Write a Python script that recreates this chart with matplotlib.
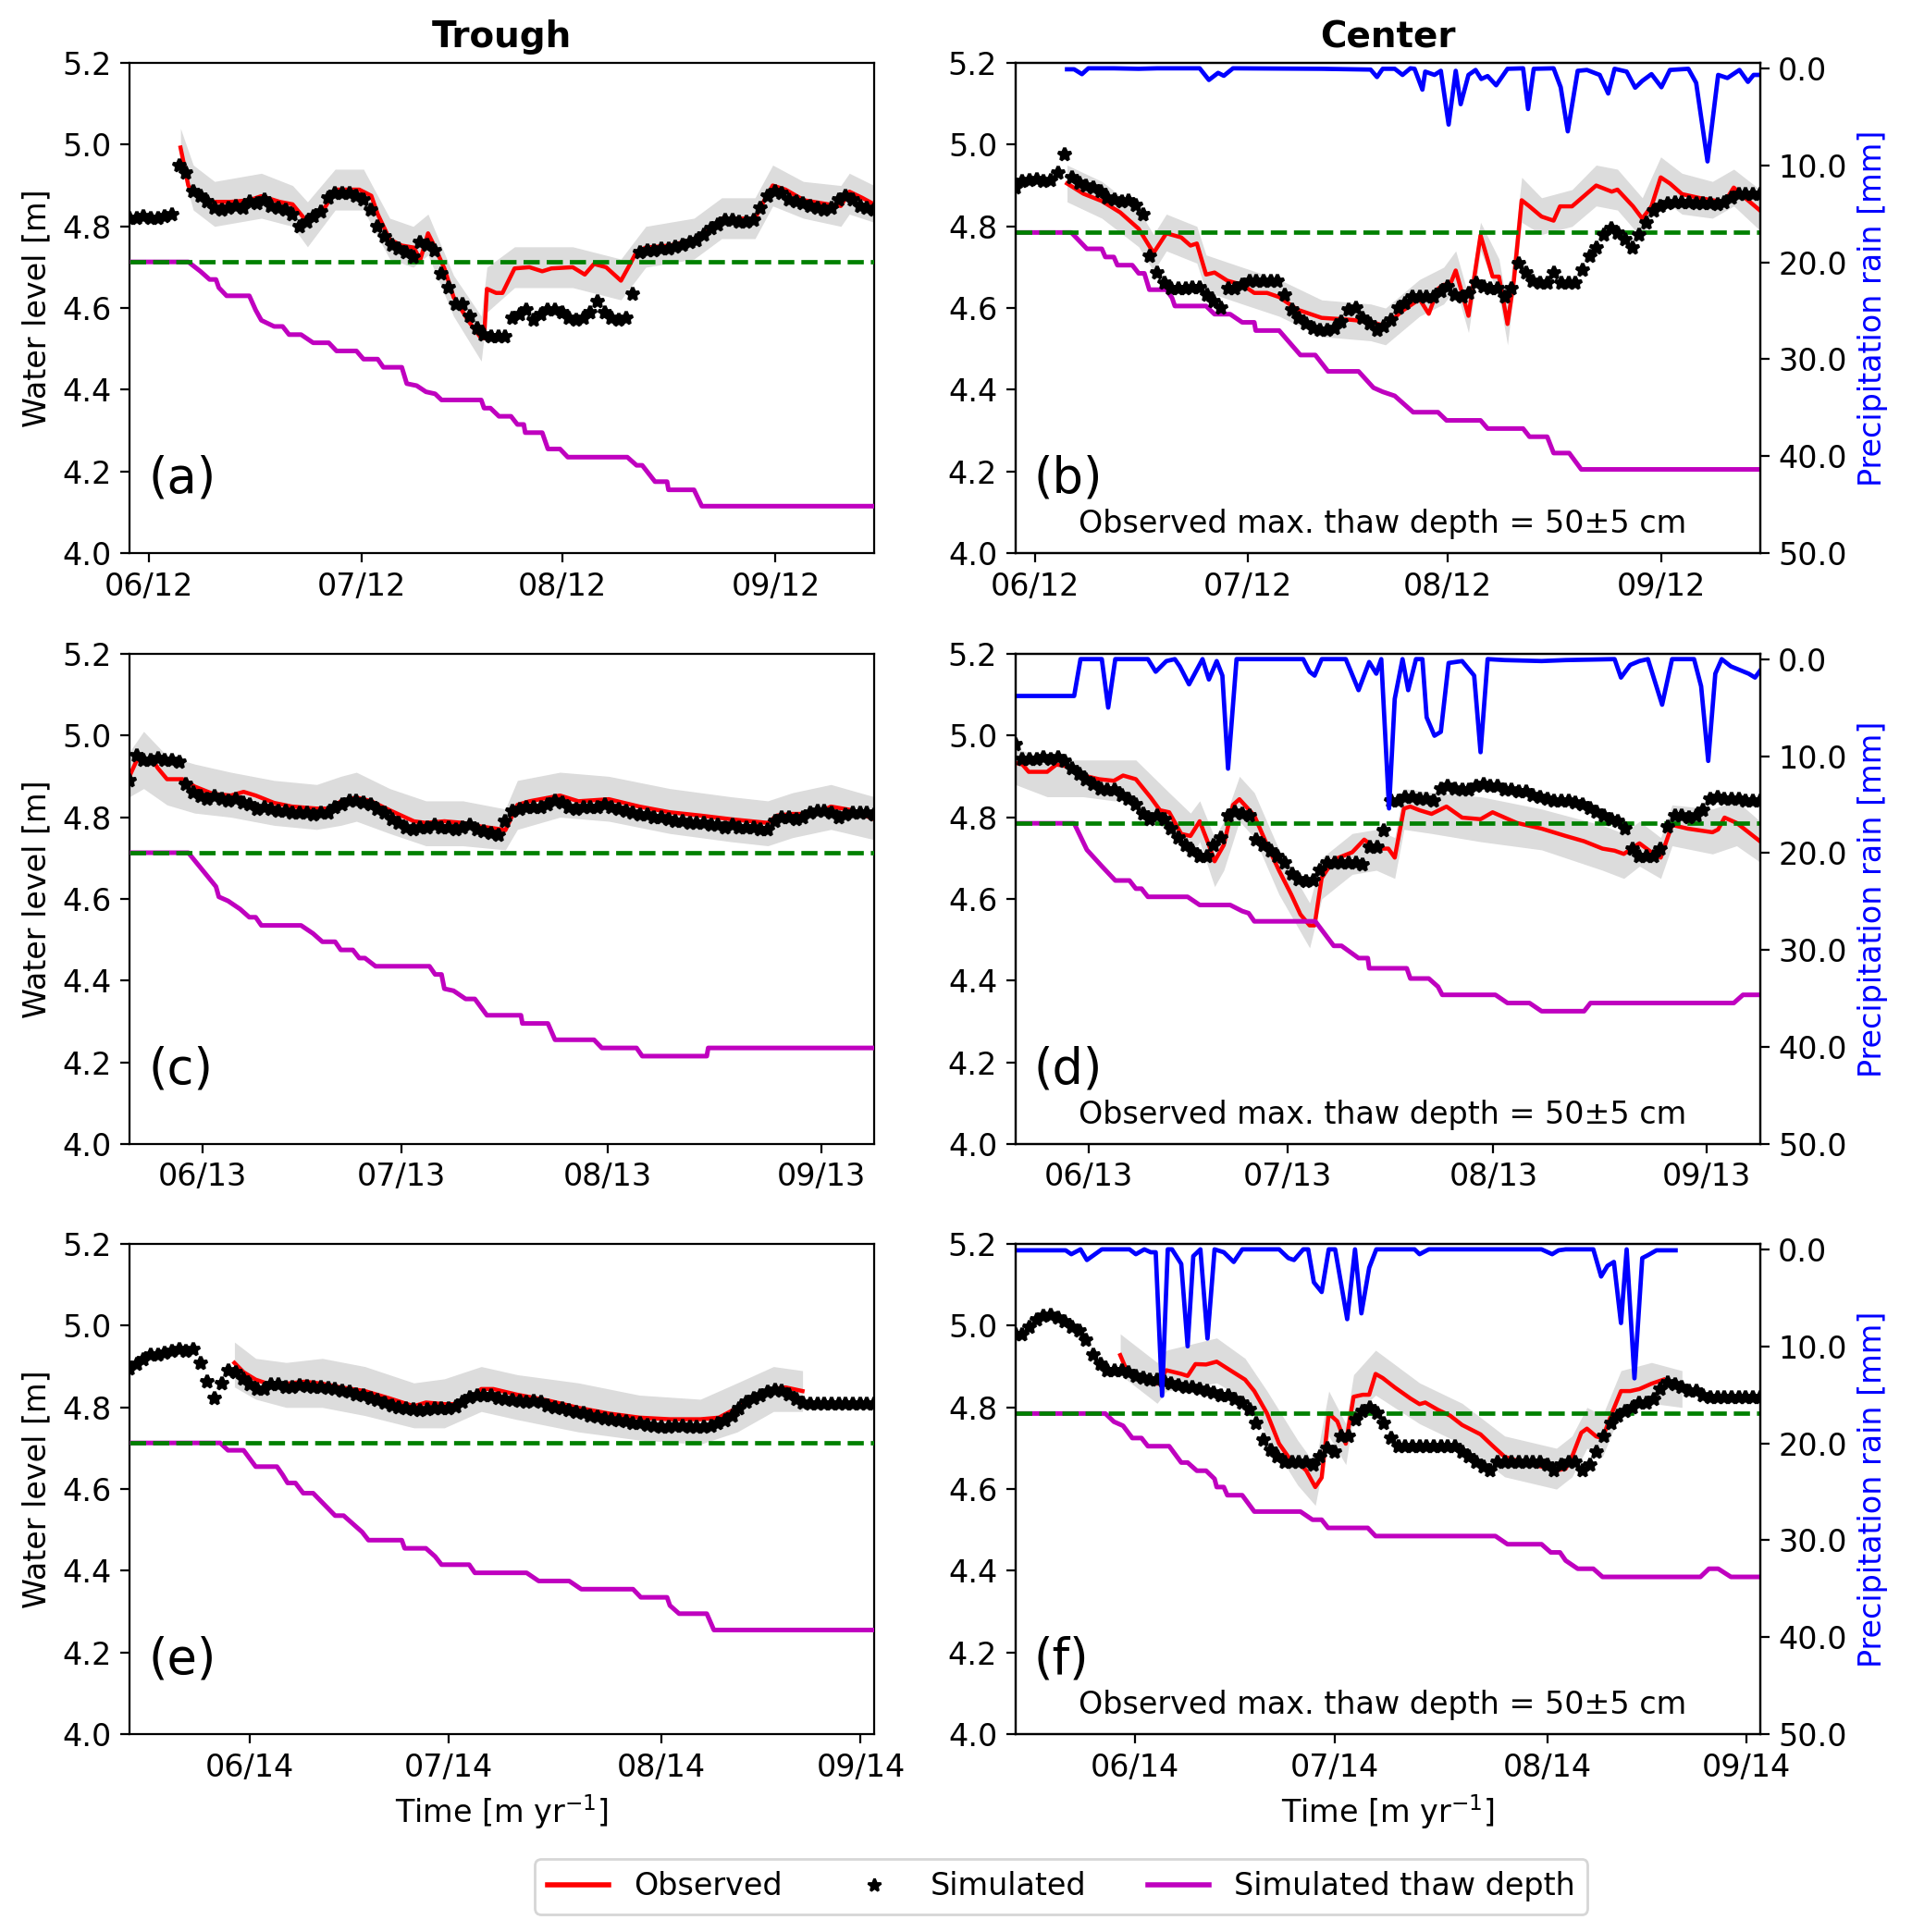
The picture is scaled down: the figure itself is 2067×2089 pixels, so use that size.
import matplotlib
matplotlib.use("Agg")
import matplotlib.pyplot as plt
import numpy as np
from matplotlib.lines import Line2D

# ---- tick positions (days from panel start) and labels ----
ticks_2012 = [2.75, 32.8, 61.0, 91.1]
labels_2012 = ["06/12", "07/12", "08/12", "09/12"]
ticks_2013 = [10.3, 38.4, 67.4, 97.5]
labels_2013 = ["06/13", "07/13", "08/13", "09/13"]
ticks_2014 = [16.9, 45.0, 75.0, 103.1]
labels_2014 = ["06/14", "07/14", "08/14", "09/14"]

# ---- (a) trough 2012 ----
a_sim = [4.82, 4.82, 4.825, 4.82, 4.82, 4.825, 4.83, 4.95, 4.93, 4.885,
         4.875, 4.86, 4.845, 4.84, 4.845, 4.85, 4.845, 4.86, 4.855, 4.865,
         4.85, 4.845, 4.84, 4.83, 4.80, 4.81, 4.825, 4.835, 4.87, 4.88,
         4.88, 4.88, 4.875, 4.865, 4.84, 4.80, 4.775, 4.755, 4.745, 4.735,
         4.725, 4.76, 4.755, 4.74, 4.685, 4.65, 4.61, 4.61, 4.58, 4.55,
         4.535, 4.53, 4.53, 4.53, 4.575, 4.585, 4.595, 4.57, 4.585, 4.595,
         4.595, 4.59, 4.575, 4.57, 4.575, 4.59, 4.615, 4.59, 4.575, 4.57,
         4.575, 4.635, 4.735, 4.74, 4.74, 4.745, 4.745, 4.75, 4.755, 4.76,
         4.765, 4.78, 4.795, 4.805, 4.815, 4.815, 4.81, 4.81, 4.815, 4.845,
         4.875, 4.885, 4.88, 4.865, 4.86, 4.855, 4.85, 4.845, 4.84, 4.845,
         4.865, 4.875, 4.865, 4.85, 4.845, 4.84]
a_obs = [(7.2, 4.993), (8.3, 4.90), (9.2, 4.88), (11.8, 4.86), (14.3, 4.86), (16.9, 4.864),
         (18.6, 4.874), (21.2, 4.86), (23.0, 4.854), (25.1, 4.81), (26.4, 4.824), (27.7, 4.85),
         (29.0, 4.89), (32.4, 4.89), (34.1, 4.875), (35.0, 4.83), (36.7, 4.768), (38.4, 4.753),
         (40.1, 4.748), (41.0, 4.718), (42.1, 4.783), (43.1, 4.748), (44.4, 4.697), (45.7, 4.627),
         (47.9, 4.566), (49.6, 4.526), (50.0, 4.526), (50.4, 4.647), (51.7, 4.637), (52.6, 4.637),
         (54.3, 4.697), (56.4, 4.70), (58.2, 4.69), (59.5, 4.697), (62.5, 4.70), (64.2, 4.682),
         (65.5, 4.708), (67.2, 4.70), (69.3, 4.667), (70.6, 4.708), (71.5, 4.738), (72.8, 4.748),
         (76.2, 4.753), (79.6, 4.768), (81.8, 4.794), (83.5, 4.819), (88.2, 4.819), (89.4, 4.86),
         (90.7, 4.90), (92.5, 4.89), (95.1, 4.864), (98.5, 4.854), (100.3, 4.85), (101.5, 4.885),
         (103.3, 4.87), (105.0, 4.854)]
a_band = [(7.2, 4.95, 5.04), (9.0, 4.84, 4.95), (12.0, 4.80, 4.91), (18.6, 4.82, 4.93),
          (23.0, 4.80, 4.90), (25.1, 4.75, 4.86), (29.0, 4.84, 4.94), (33.0, 4.84, 4.94),
          (36.7, 4.72, 4.82), (40.0, 4.70, 4.80), (42.1, 4.73, 4.83), (45.7, 4.58, 4.68),
          (49.6, 4.47, 4.58), (50.4, 4.59, 4.70), (54.3, 4.65, 4.75), (62.5, 4.65, 4.75),
          (69.3, 4.62, 4.72), (72.8, 4.70, 4.80), (79.6, 4.72, 4.82), (83.5, 4.77, 4.87),
          (88.2, 4.77, 4.87), (90.7, 4.85, 4.95), (95.0, 4.82, 4.91), (100.3, 4.80, 4.90),
          (101.5, 4.83, 4.93), (105.0, 4.81, 4.90)]
a_thaw = [(0, 4.713), (8.3, 4.713), (10.0, 4.69), (11.3, 4.67), (12.2, 4.67), (12.6, 4.65),
          (13.7, 4.63), (16.9, 4.63), (17.8, 4.595), (18.6, 4.57), (20.4, 4.555), (21.6, 4.555),
          (22.5, 4.535), (24.2, 4.535), (25.9, 4.515), (28.1, 4.515), (29.2, 4.495), (32.0, 4.495),
          (33.0, 4.475), (35.0, 4.475), (35.8, 4.455), (38.4, 4.455), (39.1, 4.415), (40.5, 4.41),
          (41.8, 4.395), (43.1, 4.39), (44.0, 4.375), (49.6, 4.375), (50.0, 4.355), (50.9, 4.355),
          (52.1, 4.335), (53.8, 4.335), (54.7, 4.315), (55.6, 4.315), (55.8, 4.295), (58.2, 4.295),
          (59.0, 4.255), (60.7, 4.255), (61.8, 4.235), (70.2, 4.235), (71.5, 4.215), (72.3, 4.215),
          (74.1, 4.175), (75.8, 4.175), (76.0, 4.155), (79.6, 4.155), (80.7, 4.115), (105, 4.115)]
a_base = 4.713

# ---- (b) center 2012 ----
b_sim = [4.895, 4.91, 4.913, 4.915, 4.91, 4.913, 4.93, 4.975, 4.92, 4.905,
         4.90, 4.895, 4.885, 4.87, 4.865, 4.86, 4.862, 4.852, 4.83, 4.728,
         4.687, 4.662, 4.647, 4.647, 4.647, 4.649, 4.649, 4.632, 4.617, 4.60,
         4.647, 4.647, 4.657, 4.667, 4.667, 4.667, 4.667, 4.667, 4.632, 4.596,
         4.576, 4.561, 4.551, 4.546, 4.546, 4.551, 4.566, 4.596, 4.60, 4.576,
         4.561, 4.546, 4.556, 4.571, 4.60, 4.612, 4.627, 4.627, 4.627, 4.627,
         4.642, 4.652, 4.632, 4.627, 4.637, 4.662, 4.652, 4.647, 4.647, 4.627,
         4.647, 4.708, 4.687, 4.667, 4.662, 4.662, 4.687, 4.662, 4.662, 4.662,
         4.692, 4.728, 4.748, 4.778, 4.794, 4.783, 4.768, 4.748, 4.778, 4.809,
         4.839, 4.849, 4.856, 4.859, 4.859, 4.859, 4.857, 4.857, 4.857, 4.854,
         4.859, 4.869, 4.879, 4.879, 4.879, 4.879]
b_obs = [(7.3, 4.905), (9.6, 4.88), (12.2, 4.862), (14.8, 4.834), (17.4, 4.794), (19.5, 4.735),
         (21.3, 4.783), (23.4, 4.773), (24.7, 4.753), (25.6, 4.758), (26.9, 4.682), (28.1, 4.687),
         (29.9, 4.667), (32.0, 4.657), (33.7, 4.637), (35.5, 4.637), (37.2, 4.627), (39.8, 4.596),
         (43.2, 4.576), (47.5, 4.571), (50.1, 4.566), (52.2, 4.556), (54.4, 4.591), (57.0, 4.622),
         (58.3, 4.586), (59.6, 4.647), (60.4, 4.657), (61.3, 4.657), (62.1, 4.692), (63.9, 4.581),
         (65.6, 4.778), (67.3, 4.677), (68.2, 4.677), (69.4, 4.561), (70.3, 4.667), (71.4, 4.864),
         (72.5, 4.849), (74.2, 4.824), (75.9, 4.814), (76.8, 4.849), (78.5, 4.849), (81.9, 4.90),
         (84.1, 4.885), (84.9, 4.89), (87.1, 4.849), (88.4, 4.819), (89.7, 4.849), (91.0, 4.92),
         (92.3, 4.905), (94.0, 4.879), (96.6, 4.869), (98.3, 4.864), (100.0, 4.859), (101.3, 4.895),
         (102.6, 4.874), (105.0, 4.839)]
b_band = [(7.3, 4.86, 4.95), (12.2, 4.82, 4.91), (17.4, 4.75, 4.84), (19.5, 4.69, 4.78),
          (21.3, 4.74, 4.83), (25.6, 4.71, 4.80), (26.9, 4.64, 4.73), (32.0, 4.61, 4.70),
          (37.2, 4.58, 4.67), (43.2, 4.53, 4.62), (50.1, 4.52, 4.61), (52.2, 4.51, 4.60),
          (57.0, 4.58, 4.67), (60.4, 4.61, 4.70), (62.1, 4.65, 4.74), (63.9, 4.54, 4.63),
          (65.6, 4.74, 4.81), (68.2, 4.63, 4.72), (69.4, 4.51, 4.60), (71.4, 4.81, 4.92),
          (74.2, 4.78, 4.87), (78.5, 4.80, 4.89), (81.9, 4.85, 4.95), (84.9, 4.84, 4.94),
          (88.4, 4.77, 4.87), (91.0, 4.87, 4.97), (94.0, 4.83, 4.93), (98.3, 4.82, 4.91),
          (101.3, 4.85, 4.94), (105.0, 4.79, 4.89)]
b_thaw = [(0, 4.785), (7.9, 4.785), (10.1, 4.745), (12.2, 4.745), (12.7, 4.725), (13.9, 4.725),
          (14.4, 4.705), (16.5, 4.705), (17.4, 4.685), (18.2, 4.685), (18.9, 4.645), (21.3, 4.645),
          (22.1, 4.625), (22.5, 4.605), (26.9, 4.605), (28.1, 4.585), (30.3, 4.585), (32.0, 4.565),
          (33.7, 4.565), (33.9, 4.545), (37.2, 4.545), (40.2, 4.485), (42.3, 4.485), (43.2, 4.465),
          (44.1, 4.445), (48.4, 4.445), (50.5, 4.405), (51.8, 4.395), (53.5, 4.385), (56.1, 4.345),
          (59.6, 4.345), (60.8, 4.325), (65.6, 4.325), (66.6, 4.305), (71.6, 4.305), (72.5, 4.285),
          (75.0, 4.285), (75.9, 4.245), (78.1, 4.245), (79.8, 4.205), (105, 4.205)]
b_base = 4.785
b_rain = [(7.3, 0.1), (8.3, 0.1), (9.4, 0.6), (10.3, 0), (13.9, 0), (17.4, 0.05), (20.0, 0), (26.0, 0),
          (27.3, 1.2), (28.6, 0.47), (29.4, 0.77), (30.7, 0), (43.2, 0.05), (50.1, 0.13), (51.0, 0.9),
          (51.8, 0.05), (53.5, 0.05), (54.6, 0.68), (55.7, 0), (56.3, 0.05), (57.4, 2.2), (57.8, 0.34),
          (59.1, 0.68), (60.0, 0.26), (61.1, 5.8), (62.1, 0.26), (62.8, 3.7), (63.9, 0.68), (64.9, 0.17),
          (65.7, 1.1), (66.6, 0.8), (67.8, 1.75), (69.4, 0.05), (71.6, 0), (72.3, 4.2), (73.1, 0.05),
          (75.9, 0), (76.9, 1.95), (77.9, 6.5), (79.3, 0.26), (80.6, 0.17), (82.4, 0.68), (83.6, 2.6),
          (84.5, 0.05), (86.2, 0.34), (87.4, 2.0), (88.4, 1.3), (89.7, 0.6), (91.1, 1.95), (92.3, 0.17),
          (94.9, 0.05), (96.0, 1.5), (97.6, 9.6), (99.1, 0.68), (100.4, 1.0), (102.1, 0.17),
          (103.3, 1.4), (104.1, 0.68), (105.0, 0.68)]

# ---- (c) trough 2013 ----
c_sim = [4.89, 4.95, 4.94, 4.94, 4.945, 4.94, 4.94, 4.935, 4.88, 4.86,
         4.85, 4.845, 4.85, 4.845, 4.84, 4.845, 4.835, 4.83, 4.82, 4.825,
         4.82, 4.815, 4.815, 4.81, 4.81, 4.81, 4.805, 4.81, 4.81, 4.825,
         4.83, 4.84, 4.84, 4.835, 4.83, 4.82, 4.81, 4.795, 4.785, 4.775,
         4.77, 4.775, 4.775, 4.78, 4.775, 4.775, 4.77, 4.775, 4.78, 4.77,
         4.765, 4.76, 4.755, 4.79, 4.815, 4.82, 4.825, 4.825, 4.825, 4.83,
         4.84, 4.835, 4.825, 4.82, 4.825, 4.825, 4.825, 4.83, 4.825, 4.82,
         4.815, 4.81, 4.805, 4.805, 4.80, 4.80, 4.795, 4.79, 4.79, 4.785,
         4.785, 4.785, 4.78, 4.78, 4.775, 4.78, 4.775, 4.775, 4.775, 4.77,
         4.77, 4.79, 4.80, 4.80, 4.795, 4.80, 4.81, 4.815, 4.815, 4.81,
         4.80, 4.805, 4.81, 4.81, 4.81, 4.805]
c_obs = [(0, 4.90), (1.0, 4.938), (3.2, 4.942), (4.0, 4.92), (5.3, 4.893), (7.5, 4.893), (9.2, 4.875),
         (11.8, 4.857), (14.3, 4.853), (16.1, 4.862), (17.8, 4.853), (20.4, 4.835), (22.9, 4.826),
         (26.4, 4.821), (28.5, 4.821), (29.8, 4.839), (32.0, 4.848), (34.1, 4.839), (36.7, 4.817),
         (40.1, 4.79), (41.8, 4.786), (44.4, 4.79), (47.0, 4.786), (49.6, 4.777), (51.7, 4.772),
         (53.0, 4.768), (54.7, 4.83), (56.4, 4.839), (60.7, 4.853), (63.3, 4.839), (67.6, 4.844),
         (71.9, 4.826), (76.2, 4.812), (80.5, 4.804), (84.8, 4.795), (90.0, 4.786), (91.3, 4.804),
         (93.5, 4.808), (96.8, 4.808), (98.9, 4.826), (101.9, 4.817), (105, 4.795)]
c_band = [(0, 4.85, 4.96), (2.0, 4.87, 5.01), (5.3, 4.83, 4.95), (9.2, 4.81, 4.93), (14.3, 4.80, 4.91),
          (20.4, 4.78, 4.89), (26.4, 4.77, 4.88), (29.8, 4.78, 4.90), (32.0, 4.79, 4.91),
          (36.7, 4.76, 4.87), (41.8, 4.73, 4.84), (47.0, 4.73, 4.84), (53.0, 4.72, 4.82),
          (54.7, 4.77, 4.89), (60.7, 4.80, 4.91), (67.6, 4.79, 4.90), (76.2, 4.76, 4.87),
          (84.8, 4.74, 4.85), (90.0, 4.73, 4.84), (93.5, 4.75, 4.86), (98.9, 4.77, 4.88),
          (105, 4.745, 4.85)]
c_thaw = [(0, 4.713), (8.3, 4.713), (12.2, 4.63), (12.6, 4.605), (13.9, 4.595), (15.6, 4.575),
          (16.9, 4.555), (17.8, 4.555), (18.6, 4.535), (24.2, 4.535), (25.9, 4.515), (27.2, 4.495),
          (29.0, 4.495), (29.8, 4.475), (31.5, 4.475), (32.4, 4.455), (33.2, 4.455), (34.7, 4.435),
          (42.3, 4.435), (43.1, 4.415), (44.0, 4.415), (44.4, 4.38), (45.7, 4.375), (47.4, 4.355),
          (48.7, 4.355), (50.4, 4.315), (55.2, 4.315), (55.4, 4.295), (59.0, 4.295), (60.0, 4.255),
          (65.5, 4.255), (66.6, 4.235), (71.5, 4.235), (72.3, 4.215), (81.4, 4.215), (81.6, 4.235),
          (105, 4.235)]
c_base = 4.713

# ---- (d) center 2013 ----
d_sim = [4.978, 4.942, 4.942, 4.942, 4.947, 4.942, 4.947, 4.938, 4.92, 4.906,
         4.893, 4.88, 4.87, 4.866, 4.866, 4.853, 4.844, 4.83, 4.808, 4.795,
         4.804, 4.795, 4.772, 4.75, 4.732, 4.718, 4.705, 4.705, 4.732, 4.75,
         4.804, 4.812, 4.808, 4.804, 4.745, 4.732, 4.718, 4.705, 4.687, 4.66,
         4.647, 4.642, 4.644, 4.669, 4.687, 4.687, 4.687, 4.687, 4.687, 4.683,
         4.727, 4.727, 4.768, 4.839, 4.839, 4.848, 4.848, 4.844, 4.844, 4.839,
         4.87, 4.875, 4.87, 4.866, 4.866, 4.875, 4.88, 4.875, 4.875, 4.866,
         4.866, 4.862, 4.862, 4.853, 4.848, 4.844, 4.839, 4.839, 4.839, 4.835,
         4.83, 4.821, 4.812, 4.804, 4.795, 4.79, 4.772, 4.723, 4.705, 4.705,
         4.705, 4.723, 4.777, 4.804, 4.804, 4.80, 4.804, 4.817, 4.844, 4.848,
         4.844, 4.844, 4.844, 4.839, 4.839, 4.839]
d_obs = [(0, 4.933), (1.0, 4.929), (1.9, 4.911), (4.5, 4.911), (5.8, 4.929), (7.5, 4.924), (9.6, 4.902),
         (11.8, 4.893), (13.9, 4.889), (15.2, 4.902), (17.0, 4.893), (19.1, 4.848), (20.4, 4.817),
         (21.7, 4.812), (23.4, 4.759), (24.7, 4.754), (26.0, 4.79), (27.3, 4.732), (28.1, 4.692),
         (29.4, 4.732), (30.7, 4.83), (31.6, 4.844), (33.7, 4.804), (35.5, 4.732), (37.2, 4.669),
         (38.9, 4.611), (40.2, 4.562), (41.5, 4.535), (42.2, 4.535), (43.2, 4.651), (44.9, 4.696),
         (47.5, 4.714), (49.2, 4.745), (50.9, 4.723), (52.6, 4.723), (53.5, 4.701), (54.8, 4.821),
         (55.7, 4.826), (57.0, 4.817), (58.7, 4.808), (60.8, 4.826), (63.0, 4.799), (65.6, 4.795),
         (67.3, 4.812), (70.7, 4.786), (74.2, 4.772), (77.6, 4.754), (80.2, 4.741), (82.8, 4.723),
         (84.5, 4.718), (85.8, 4.71), (88.0, 4.736), (89.7, 4.714), (91.0, 4.701), (92.6, 4.781),
         (94.8, 4.772), (98.3, 4.763), (99.1, 4.77), (100.0, 4.799), (101.7, 4.786), (105, 4.741)]
d_band = [(0, 4.88, 4.97), (4.5, 4.85, 4.94), (9.6, 4.85, 4.94), (13.9, 4.84, 4.94), (17.0, 4.84, 4.94),
          (21.7, 4.76, 4.86), (24.7, 4.70, 4.81), (26.0, 4.74, 4.84), (28.1, 4.63, 4.75),
          (29.4, 4.67, 4.79), (31.6, 4.79, 4.90), (33.7, 4.75, 4.86), (37.2, 4.61, 4.72),
          (41.5, 4.48, 4.59), (43.2, 4.60, 4.70), (47.5, 4.66, 4.76), (50.9, 4.67, 4.77),
          (53.5, 4.65, 4.75), (54.8, 4.77, 4.87), (58.7, 4.76, 4.86), (65.6, 4.74, 4.85),
          (74.2, 4.72, 4.82), (82.8, 4.67, 4.78), (85.8, 4.65, 4.76), (88.0, 4.68, 4.79),
          (91.0, 4.65, 4.75), (92.6, 4.73, 4.83), (98.3, 4.71, 4.82), (101.7, 4.73, 4.84),
          (105, 4.69, 4.79)]
d_thaw = [(0, 4.785), (8.3, 4.785), (10.1, 4.72), (12.2, 4.68), (14.1, 4.645), (16.1, 4.645),
          (17.0, 4.625), (17.8, 4.625), (18.7, 4.605), (24.3, 4.605), (26.0, 4.585), (30.3, 4.585),
          (32.0, 4.57), (32.9, 4.565), (33.7, 4.545), (42.3, 4.545), (44.9, 4.485), (46.0, 4.485),
          (48.4, 4.455), (49.7, 4.455), (49.9, 4.43), (55.2, 4.43), (55.7, 4.405), (58.3, 4.405),
          (59.6, 4.385), (60.2, 4.365), (67.7, 4.365), (69.4, 4.345), (72.5, 4.345), (74.2, 4.325),
          (80.2, 4.325), (81.1, 4.345), (101.3, 4.345), (102.6, 4.365), (105, 4.365)]
d_base = 4.785
d_rain = [(0, 3.8), (8.3, 3.8), (9.2, 0), (12.2, 0), (13.1, 5.0), (14.1, 0), (18.7, 0), (19.8, 1.3),
          (21.3, 0.2), (22.5, 0), (23.2, 0.75), (24.5, 2.6), (26.4, 0), (27.3, 2.1), (28.4, 0.2),
          (29.2, 1.7), (30.0, 11.3), (31.2, 0), (32.9, 0), (40.6, 0), (41.5, 1.3), (42.2, 1.7),
          (43.2, 0), (46.6, 0), (48.4, 3.2), (49.9, 0.3), (50.9, 1.5), (51.6, 0), (52.7, 15.4),
          (53.5, 4.1), (54.6, 0), (55.4, 3.2), (56.5, 0), (57.4, 0), (58.0, 6.0), (59.1, 7.9),
          (60.0, 7.5), (61.1, 0.4), (63.0, 0.2), (64.7, 1.7), (65.6, 9.6), (66.6, 0), (69.0, 0.1),
          (74.2, 0.2), (77.6, 0.1), (84.5, 0), (85.4, 1.9), (86.7, 0.6), (88.0, 0.2), (89.2, 0),
          (91.2, 4.7), (92.6, 0), (94.3, 0), (95.7, 0), (96.7, 2.8), (97.7, 10.5), (98.7, 1.5),
          (99.6, 0), (100.9, 0.75), (103.4, 1.5), (104.3, 1.9), (105, 1.2)]

# ---- (e) trough 2014 ----
e_sim = [4.895, 4.905, 4.918, 4.928, 4.928, 4.932, 4.937, 4.942, 4.937, 4.942,
         4.909, 4.863, 4.822, 4.858, 4.891, 4.885, 4.87, 4.855, 4.845, 4.845,
         4.855, 4.857, 4.85, 4.85, 4.853, 4.852, 4.85, 4.85, 4.848, 4.845,
         4.84, 4.837, 4.832, 4.828, 4.823, 4.818, 4.81, 4.803, 4.80, 4.797,
         4.795, 4.793, 4.795, 4.797, 4.798, 4.797, 4.802, 4.812, 4.825, 4.83,
         4.83, 4.828, 4.823, 4.82, 4.818, 4.815, 4.812, 4.815, 4.812, 4.805,
         4.80, 4.798, 4.793, 4.788, 4.785, 4.78, 4.776, 4.773, 4.77, 4.768,
         4.765, 4.762, 4.76, 4.757, 4.755, 4.752, 4.752, 4.754, 4.755, 4.753,
         4.752, 4.753, 4.755, 4.76, 4.768, 4.78, 4.798, 4.812, 4.822, 4.83,
         4.838, 4.842, 4.84, 4.832, 4.82, 4.81, 4.808, 4.808, 4.808, 4.808,
         4.808, 4.808, 4.808, 4.808, 4.808, 4.808]
e_obs = [(14.8, 4.909), (16.1, 4.886), (17.8, 4.868), (19.5, 4.858), (22.1, 4.858), (24.7, 4.863),
         (27.2, 4.858), (29.8, 4.849), (33.2, 4.84), (36.7, 4.822), (40.1, 4.803), (41.8, 4.812),
         (44.4, 4.808), (47.0, 4.808), (49.6, 4.845), (51.3, 4.845), (54.7, 4.831), (59.0, 4.817),
         (63.3, 4.799), (67.6, 4.785), (71.9, 4.775), (76.2, 4.771), (80.5, 4.771), (83.1, 4.775),
         (85.7, 4.799), (88.2, 4.826), (90.8, 4.845), (92.5, 4.849), (94.9, 4.84)]
e_band = [(14.8, 4.85, 4.96), (17.8, 4.82, 4.92), (22.1, 4.80, 4.91), (27.2, 4.80, 4.92),
          (33.2, 4.78, 4.90), (40.1, 4.75, 4.86), (44.4, 4.75, 4.87), (49.6, 4.79, 4.90),
          (54.7, 4.77, 4.88), (63.3, 4.74, 4.86), (71.9, 4.72, 4.83), (80.5, 4.71, 4.82),
          (85.7, 4.74, 4.86), (90.8, 4.79, 4.90), (94.9, 4.79, 4.89)]
e_thaw = [(0, 4.713), (12.8, 4.713), (13.9, 4.695), (16.1, 4.695), (17.8, 4.655), (20.8, 4.655),
          (21.6, 4.635), (22.3, 4.615), (23.4, 4.615), (24.5, 4.59), (25.9, 4.59), (29.0, 4.535),
          (30.2, 4.535), (31.5, 4.515), (32.8, 4.495), (33.7, 4.475), (38.4, 4.475), (38.8, 4.455),
          (41.8, 4.455), (43.1, 4.435), (44.0, 4.415), (47.9, 4.415), (48.7, 4.395), (56.0, 4.395),
          (57.7, 4.375), (62.0, 4.375), (63.7, 4.355), (71.0, 4.355), (72.1, 4.335), (75.8, 4.335),
          (76.2, 4.315), (77.5, 4.295), (81.4, 4.295), (82.4, 4.255), (105, 4.255)]
e_base = 4.713

# ---- (f) center 2014 ----
f_sim = [4.978, 4.978, 4.997, 5.015, 5.023, 5.025, 5.02, 5.011, 4.997, 4.988,
         4.965, 4.928, 4.905, 4.891, 4.891, 4.891, 4.886, 4.877, 4.872, 4.868,
         4.868, 4.863, 4.858, 4.854, 4.849, 4.85, 4.845, 4.84, 4.835, 4.83,
         4.83, 4.82, 4.81, 4.795, 4.76, 4.72, 4.695, 4.68, 4.665, 4.665,
         4.665, 4.665, 4.66, 4.68, 4.70, 4.69, 4.73, 4.73, 4.77, 4.79,
         4.80, 4.785, 4.76, 4.725, 4.705, 4.705, 4.705, 4.705, 4.705, 4.705,
         4.705, 4.705, 4.705, 4.69, 4.68, 4.665, 4.655, 4.645, 4.665, 4.665,
         4.665, 4.665, 4.665, 4.665, 4.665, 4.66, 4.645, 4.66, 4.665, 4.665,
         4.645, 4.66, 4.69, 4.73, 4.76, 4.78, 4.79, 4.80, 4.81, 4.81,
         4.82, 4.845, 4.86, 4.855, 4.85, 4.84, 4.84, 4.83, 4.825, 4.825,
         4.825, 4.825, 4.825, 4.825, 4.825, 4.825]
f_obs = [(14.8, 4.928), (15.7, 4.891), (17.4, 4.877), (19.1, 4.868), (20.0, 4.858), (21.3, 4.891),
         (23.4, 4.882), (24.3, 4.877), (25.4, 4.906), (26.9, 4.905), (28.4, 4.912), (30.3, 4.891),
         (32.4, 4.868), (33.7, 4.84), (35.5, 4.785), (37.2, 4.711), (38.5, 4.679), (39.8, 4.665),
         (41.0, 4.646), (42.3, 4.605), (43.2, 4.628), (44.2, 4.785), (45.4, 4.766), (46.6, 4.711),
         (47.7, 4.826), (49.0, 4.831), (49.9, 4.831), (50.8, 4.882), (51.8, 4.872), (53.5, 4.849),
         (55.7, 4.822), (57.0, 4.808), (57.8, 4.812), (59.6, 4.794), (61.3, 4.78), (63.0, 4.757),
         (65.6, 4.734), (67.3, 4.706), (69.0, 4.679), (71.6, 4.665), (74.2, 4.655), (76.3, 4.646),
         (77.6, 4.65), (78.5, 4.679), (79.8, 4.738), (80.6, 4.748), (81.9, 4.729), (82.8, 4.725),
         (84.1, 4.785), (85.4, 4.84), (86.7, 4.84), (88.0, 4.845), (89.7, 4.858), (91.4, 4.868)]
f_band = [(14.8, 4.88, 4.98), (20.0, 4.81, 4.91), (21.3, 4.84, 4.94), (28.4, 4.86, 4.97),
          (32.4, 4.82, 4.92), (35.5, 4.73, 4.84), (39.8, 4.61, 4.72), (42.3, 4.56, 4.66),
          (44.2, 4.73, 4.84), (46.6, 4.66, 4.76), (47.7, 4.78, 4.88), (50.8, 4.83, 4.94),
          (57.0, 4.76, 4.86), (63.0, 4.71, 4.81), (69.0, 4.63, 4.73), (76.3, 4.60, 4.70),
          (78.5, 4.63, 4.73), (80.6, 4.70, 4.80), (82.8, 4.68, 4.78), (85.4, 4.79, 4.89),
          (89.7, 4.81, 4.91), (94.0, 4.80, 4.89)]
f_thaw = [(0, 4.785), (12.7, 4.785), (13.9, 4.765), (15.2, 4.755), (16.5, 4.725), (17.8, 4.725),
          (18.7, 4.705), (21.7, 4.705), (23.4, 4.665), (24.3, 4.665), (25.6, 4.645), (26.9, 4.645),
          (28.1, 4.625), (28.4, 4.605), (29.4, 4.605), (29.9, 4.585), (32.0, 4.585), (33.7, 4.545),
          (40.2, 4.545), (41.9, 4.525), (43.2, 4.525), (44.1, 4.505), (49.7, 4.505), (50.8, 4.485),
          (67.7, 4.485), (69.4, 4.465), (74.2, 4.465), (75.5, 4.445), (76.8, 4.445), (77.6, 4.425),
          (79.3, 4.405), (81.5, 4.405), (82.8, 4.385), (96.6, 4.385), (97.8, 4.405), (99.1, 4.405),
          (100.9, 4.385), (105, 4.385)]
f_base = 4.785
f_rain = [(0, 0.1), (7.1, 0.1), (7.9, 0.5), (9.2, 0), (10.1, 1.1), (12.2, 0), (16.1, 0), (17.0, 0.5),
          (18.2, 0), (19.1, 0.3), (19.8, 0.3), (20.7, 15.1), (21.5, 0), (22.1, 0), (23.4, 1.5),
          (24.3, 10.0), (25.1, 0.7), (26.1, 0), (27.1, 9.2), (28.1, 0), (29.4, 0.3), (30.8, 1.3),
          (32.0, 0), (37.2, 0), (38.5, 0.9), (39.3, 1.1), (40.6, 0), (41.3, 0), (42.1, 3.4),
          (43.2, 4.4), (44.2, 0), (45.1, 0), (46.8, 7.2), (47.9, 0), (48.8, 6.6), (49.9, 1.9),
          (50.9, 0), (56.3, 0), (57.0, 0.5), (58.3, 0), (74.2, 0), (75.7, 0.5), (76.6, 0.1),
          (77.6, 0), (81.5, 0), (82.6, 2.8), (83.5, 1.7), (84.4, 1.3), (85.4, 7.6), (86.2, 0),
          (87.3, 13.3), (88.4, 0.9), (89.2, 0.6), (90.4, 0.1), (93.1, 0.1)]

plt.rcParams["font.family"] = ["DejaVu Sans"]
plt.rcParams["font.size"] = 12

fig = plt.figure(figsize=(10.335, 10.445), dpi=200)

lefts = [0.0677, 0.531]
bottoms = [0.7137, 0.4079, 0.1024]
w, h = 0.3895, 0.2537

panels = [
    ("(a)", a_sim, a_obs, a_band, a_thaw, a_base, None, ticks_2012, labels_2012),
    ("(b)", b_sim, b_obs, b_band, b_thaw, b_base, b_rain, ticks_2012, labels_2012),
    ("(c)", c_sim, c_obs, c_band, c_thaw, c_base, None, ticks_2013, labels_2013),
    ("(d)", d_sim, d_obs, d_band, d_thaw, d_base, d_rain, ticks_2013, labels_2013),
    ("(e)", e_sim, e_obs, e_band, e_thaw, e_base, None, ticks_2014, labels_2014),
    ("(f)", f_sim, f_obs, f_band, f_thaw, f_base, f_rain, ticks_2014, labels_2014),
]

for i, (tag, sim, obs, band, thaw, base, rain, ticks, labels) in enumerate(panels):
    row, col = divmod(i, 2)
    ax = fig.add_axes([lefts[col], bottoms[row], w, h])

    bx, blo, bhi = zip(*band)
    ax.fill_between(bx, blo, bhi, color="#dcdcdc", lw=0, zorder=1)
    ox, oy = zip(*obs)
    ax.plot(ox, oy, color="r", lw=1.6, zorder=2)
    tx, ty = zip(*thaw)
    ax.plot(tx, ty, color="m", lw=1.8, zorder=3)
    ax.axhline(base, color="g", ls="--", lw=1.7, zorder=4)
    ax.plot(np.arange(len(sim)), sim, ls="none", marker="*", ms=5, mew=1.3,
            color="k", zorder=5)

    ax.set_xlim(0, 105)
    ax.set_ylim(4.0, 5.2)
    ax.set_yticks(np.arange(4.0, 5.21, 0.2))
    ax.set_yticklabels([f"{v:.1f}" for v in np.arange(4.0, 5.21, 0.2)])
    ax.set_xticks(ticks)
    ax.set_xticklabels(labels)
    ax.text(0.025, 0.152, tag, transform=ax.transAxes, fontsize=19, va="center", ha="left")

    if col == 0:
        ax.set_ylabel("Water level [m]")
    if row == 0:
        ax.set_title("Trough" if col == 0 else "Center", fontweight="bold", fontsize=14)
    if row == 2:
        ax.set_xlabel("Time [m yr$^{-1}$]")

    if rain is not None:
        ax.text(0.493, 0.06, "Observed max. thaw depth = 50\u00b15 cm",
                transform=ax.transAxes, ha="center", va="center", fontsize=12)
        tw = ax.twinx()
        rx, ry = zip(*rain)
        tw.plot(rx, ry, color="b", lw=1.7)
        tw.set_ylim(50, -0.55)
        tw.set_yticks([0, 10, 20, 30, 40, 50])
        tw.set_yticklabels([f"{v:.1f}" for v in [0, 10, 20, 30, 40, 50]])
        tw.set_ylabel("Precipitation rain [mm]", color="b")
        tw.set_xlim(0, 105)

handles = [
    Line2D([], [], color="r", lw=2),
    Line2D([], [], color="k", ls="none", marker="*", ms=5, mew=1),
    Line2D([], [], color="m", lw=2),
]
fig.legend(handles, ["Observed", "Simulated", "Simulated thaw depth"], ncol=3,
           loc="center", bbox_to_anchor=(0.555, 0.0235), fontsize=12)

fig.savefig("out.png", dpi=200)
